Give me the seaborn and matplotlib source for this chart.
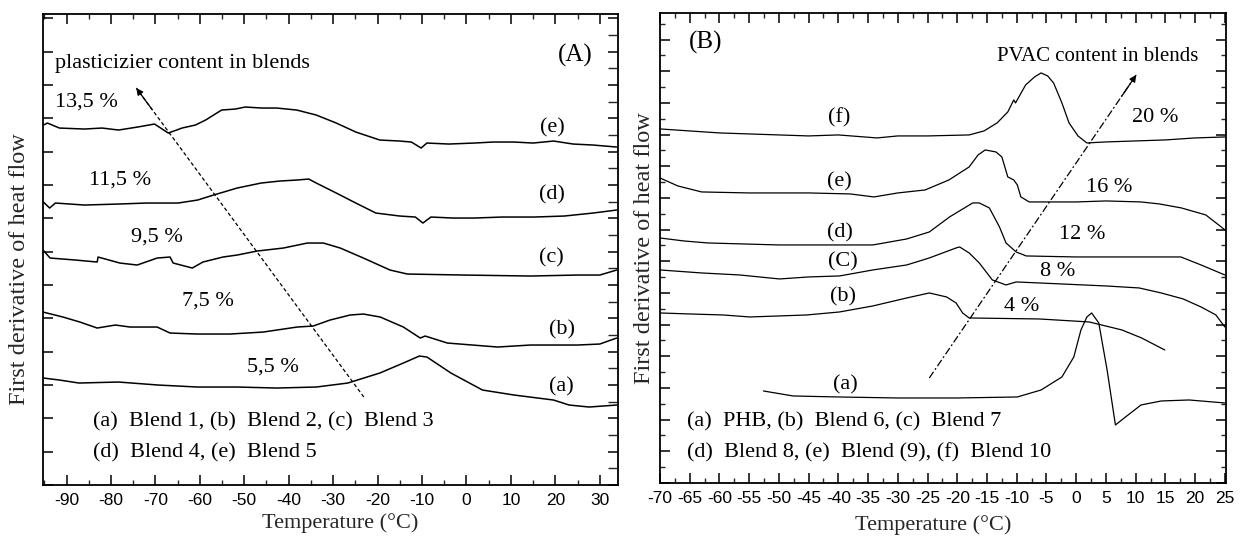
import matplotlib
matplotlib.use("Agg")
import matplotlib.pyplot as plt
import seaborn as sns
import pandas as pd
from matplotlib.ticker import MultipleLocator

# ---------------- Panel (A) : plasticizer blends ----------------
tA_a = [-95.2, -91.6, -87.2, -78.3, -69.4, -60.5, -51.6, -42.7, -33.8, -26.7, -19.5, -14.2,
        -10.6, -8.9, -3.5, 3.6, 10.7, 19.6, 23.1, 27.6, 33.8]
yA_a = [10.7, 10.5, 10.2, 10.3, 10.0, 9.8, 9.8, 9.7, 9.8, 10.2, 11.2, 12.2,
        12.9, 12.8, 11.2, 9.5, 9.0, 8.5, 8.0, 7.8, 8.0]

tA_b = [-95.3, -90.8, -87.0, -83.1, -79.0, -75.7, -69.6, -66.7, -60.6, -53.2, -45.7, -38.1,
        -34.5, -30.7, -26.2, -23.2, -19.4, -14.2, -10.4, -9.3, -4.3, 7.0, 14.4, 25.0, 30.0, 33.8]
yA_b = [17.3, 16.8, 16.3, 15.7, 16.0, 15.8, 15.8, 15.2, 15.1, 15.1, 15.3, 15.8,
        15.9, 16.5, 17.0, 17.1, 16.8, 15.8, 14.7, 14.9, 14.2, 13.8, 14.0, 14.0, 14.1, 14.7]

tA_c = [-95.3, -93.7, -88.0, -83.1, -82.9, -78.0, -74.1, -69.6, -66.7, -66.0, -61.7, -59.3,
        -54.8, -51.6, -47.1, -41.2, -35.8, -32.2, -28.4, -23.2, -17.2, -13.3, -0.7, 14.4,
        25.0, 30.0, 33.8]
yA_c = [23.5, 22.7, 22.5, 22.3, 22.8, 22.2, 22.0, 22.7, 22.8, 22.2, 21.7, 22.3,
        22.8, 23.0, 23.4, 23.7, 24.2, 24.2, 23.7, 22.7, 21.5, 21.1, 21.0, 20.9,
        21.0, 21.0, 21.5]

tA_d = [-95.2, -93.8, -92.5, -86.0, -78.3, -72.0, -64.9, -60.5, -56.9, -51.6, -46.2, -42.0,
        -38.2, -35.5, -33.8, -29.3, -24.9, -20.4, -15.0, -11.5, -9.8, -8.0, -3.0, 1.8, 8.0,
        15.2, 22.0, 28.5, 33.8]
yA_d = [28.3, 27.7, 28.2, 28.0, 28.1, 28.2, 28.2, 28.5, 29.0, 29.7, 30.2, 30.4,
        30.5, 30.6, 30.2, 29.2, 28.2, 27.2, 26.9, 26.8, 26.2, 26.8, 26.7, 26.7, 26.8,
        26.8, 26.9, 27.2, 27.5]

tA_e = [-95.2, -94.3, -91.6, -86.0, -82.0, -78.3, -74.0, -70.2, -67.1, -64.0, -61.0, -58.7,
        -55.1, -52.0, -49.8, -46.0, -42.7, -38.2, -33.8, -29.3, -24.9, -19.5, -15.0, -12.4,
        -10.2, -8.9, -4.0, 1.8, 6.0, 10.7, 15.0, 19.6, 24.0, 28.5, 33.8]
yA_e = [36.0, 36.2, 35.7, 35.6, 35.7, 35.5, 35.8, 36.1, 35.2, 35.7, 36.0, 36.5,
        37.5, 37.6, 37.8, 37.7, 37.7, 37.5, 37.0, 36.2, 35.3, 34.5, 34.4, 34.3,
        33.7, 34.2, 34.1, 34.2, 34.3, 34.3, 34.2, 34.4, 34.1, 34.0, 33.8]

labels_A = ["(a)", "(b)", "(c)", "(d)", "(e)"]
label_pos_A = [(21.4, 9.8), (21.4, 15.5), (19.2, 22.7), (19.2, 29.0), (19.3, 35.7)]
contents_A = ["5,5 %", "7,5 %", "9,5 %", "11,5 %", "13,5 %"]
content_pos_A = [(-49.3, 11.8), (-64.0, 18.4), (-75.6, 24.8), (-84.9, 30.5), (-92.5, 38.3)]
legend_A = ["(a)  Blend 1, (b)  Blend 2, (c)  Blend 3", "(d)  Blend 4, (e)  Blend 5"]
xticks_A = [-90, -80, -70, -60, -50, -40, -30, -20, -10, 0, 10, 20, 30]

# ---------------- Panel (B) : PVAC blends ----------------
tB_a = [-52.6, -47.6, -40.0, -30.0, -20.0, -9.9, -5.9, -2.4, -0.4, 0.8, 1.8, 2.6, 3.8,
        5.2, 6.6, 8.3, 10.9, 14.3, 19.0, 25.0]
yB_a = [9.2, 8.7, 8.6, 8.5, 8.5, 8.6, 9.3, 10.6, 12.6, 15.3, 16.6, 17.0, 16.0,
        11.3, 5.8, 6.6, 7.8, 8.2, 8.3, 8.0]

tB_b = [-70.0, -65.0, -59.4, -54.9, -50.0, -45.3, -39.8, -34.2, -28.5, -24.7, -21.8, -20.2,
        -19.1, -18.0, -6.2, 2.2, 7.7, 11.0, 14.9]
yB_b = [17.0, 16.9, 16.8, 16.6, 16.7, 16.8, 17.1, 17.7, 18.5, 19.0, 18.6, 18.0,
        17.0, 16.5, 16.4, 16.1, 15.3, 14.5, 13.3]

tB_c = [-70.0, -63.0, -56.6, -49.9, -45.0, -39.8, -34.2, -28.5, -24.7, -20.2, -19.6, -18.0,
        -16.3, -14.1, -11.8, -10.1, -6.2, 5.0, 10.6, 14.3, 18.0, 21.0, 23.5, 25.0]
yB_c = [21.3, 21.0, 20.8, 20.4, 20.6, 20.7, 21.3, 21.8, 22.5, 23.5, 23.6, 23.0,
        22.0, 20.3, 19.8, 20.1, 20.0, 19.7, 19.5, 19.0, 18.4, 17.6, 16.8, 15.6]

tB_d = [-70.0, -66.0, -62.0, -50.0, -40.0, -34.2, -28.5, -24.7, -21.3, -17.4, -16.3, -14.6,
        -12.9, -11.8, -10.1, -8.4, 0.0, 10.0, 17.6, 21.0, 25.0]
yB_d = [24.5, 24.2, 24.0, 23.8, 23.8, 23.8, 24.4, 25.1, 26.6, 28.0, 28.0, 27.5,
        25.6, 24.0, 23.1, 22.7, 22.6, 22.6, 22.6, 21.8, 20.8]

tB_e = [-70.0, -67.0, -63.0, -55.0, -45.0, -38.0, -34.0, -30.0, -25.4, -21.4, -18.0, -16.5,
        -15.3, -13.5, -12.5, -11.5, -10.5, -9.9, -9.3, -7.9, 0.0, 5.0, 10.9, 14.0, 17.7,
        21.8, 24.4, 25.0]
yB_e = [30.5, 29.7, 29.1, 29.0, 29.0, 28.9, 28.6, 29.0, 29.3, 30.3, 31.6, 32.8,
        33.3, 33.1, 32.6, 30.6, 30.3, 29.8, 28.6, 28.1, 28.1, 28.2, 28.1, 27.9, 27.5,
        26.8, 25.6, 25.3]

tB_f = [-70.0, -65.0, -60.0, -55.0, -50.0, -45.0, -40.0, -33.5, -30.0, -25.0, -18.0, -15.5,
        -13.3, -11.5, -10.5, -10.2, -8.5, -7.0, -5.9, -4.8, -3.8, -2.4, -1.2, 0.3, 1.8,
        5.0, 10.0, 15.0, 20.0, 25.0]
yB_f = [35.4, 35.2, 35.0, 34.9, 34.8, 34.7, 34.8, 34.5, 34.7, 34.7, 34.8, 35.2,
        36.0, 37.1, 38.3, 38.0, 39.8, 40.6, 41.0, 40.7, 40.0, 38.0, 36.0, 34.7, 34.0,
        34.1, 34.2, 34.3, 34.5, 34.6]

labels_B = ["(a)", "(b)", "(C)", "(d)", "(e)", "(f)"]
label_pos_B = [(-38.9, 9.8), (-39.3, 18.6), (-39.3, 22.1), (-39.8, 25.0), (-39.9, 30.1), (-39.9, 36.5)]
contents_B = ["4 %", "8 %", "12 %", "16 %", "20 %"]
content_pos_B = [(-9.1, 17.6), (-3.2, 21.1), (1.0, 24.8), (5.5, 29.5), (13.3, 36.5)]
legend_B = ["(a)  PHB, (b)  Blend 6, (c)  Blend 7", "(d)  Blend 8, (e)  Blend (9), (f)  Blend 10"]
xticks_B = [-70, -65, -60, -55, -50, -45, -40, -35, -30, -25, -20, -15, -10, -5, 0, 5, 10, 15, 20, 25]

arrow_A = [(-23.1, 8.8), (-74.3, 39.7)]
arrow_B = [(-24.7, 10.5), (10.1, 40.8)]

# ---------------- figure ----------------
sns.set_theme(style="white")
SERIF = "Liberation Serif"
SANS = "Liberation Sans"
plt.rcParams["font.family"] = SERIF
plt.rcParams["axes.unicode_minus"] = False
plt.rcParams["axes.edgecolor"] = "black"

fig = plt.figure(figsize=(12.49, 5.36), dpi=100)
fig.patch.set_facecolor("white")
ax1 = fig.add_axes([0.0344, 0.0951, 0.4604, 0.8787])
ax2 = fig.add_axes([0.5284, 0.0989, 0.4532, 0.8770])


def long_df(ts, ys, names):
    frames = []
    for t, y, n in zip(ts, ys, names):
        frames.append(pd.DataFrame({"T": t, "y": y, "curve": n}))
    return pd.concat(frames, ignore_index=True)


dfA = long_df([tA_a, tA_b, tA_c, tA_d, tA_e], [yA_a, yA_b, yA_c, yA_d, yA_e], list("abcde"))
dfB = long_df([tB_a, tB_b, tB_c, tB_d, tB_e, tB_f],
              [yB_a, yB_b, yB_c, yB_d, yB_e, yB_f], list("abcdef"))

sns.lineplot(data=dfA, x="T", y="y", hue="curve", palette={k: "black" for k in "abcde"},
             estimator=None, sort=False, legend=False, lw=1.1, ax=ax1)
sns.lineplot(data=dfB, x="T", y="y", hue="curve", palette={k: "black" for k in "abcdef"},
             estimator=None, sort=False, legend=False, lw=0.9, ax=ax2)


def arrow(ax, p0, p1, ls):
    ax.plot([p0[0], p1[0]], [p0[1], p1[1]], color="black", lw=0.9, ls=ls)
    fx = p0[0] + (p1[0] - p0[0]) * 0.93
    fy = p0[1] + (p1[1] - p0[1]) * 0.93
    ax.annotate("", xy=p1, xytext=(fx, fy),
                arrowprops=dict(arrowstyle="-|>", color="black", lw=0.9,
                                mutation_scale=10, shrinkA=0, shrinkB=0))


arrow(ax1, arrow_A[0], arrow_A[1], (0, (3, 2)))
arrow(ax2, arrow_B[0], arrow_B[1], (0, (6, 2, 1.5, 2)))

FS = 16


def txt(ax, x, y, s, ha="left", fs=FS):
    ax.text(x, y, s, ha=ha, va="center", fontsize=fs, family=SERIF, color="black")


for lab, (x, y) in zip(labels_A, label_pos_A):
    txt(ax1, x, y, lab, ha="center")
for lab, (x, y) in zip(contents_A, content_pos_A):
    txt(ax1, x, y, lab)
txt(ax1, -92.5, 42.2, "plasticizier content in blends")
txt(ax1, 24.5, 43.0, "(A)", ha="center", fs=18)
txt(ax1, -84.0, 6.3, legend_A[0])
txt(ax1, -84.0, 3.2, legend_A[1])

for lab, (x, y) in zip(labels_B, label_pos_B):
    txt(ax2, x, y, lab, ha="center")
for lab, (x, y) in zip(contents_B, content_pos_B):
    txt(ax2, x, y, lab, ha="center")
txt(ax2, -13.3, 42.6, "PVAC content in blends", fs=15)
txt(ax2, -65.1, 44.0, "(B)", fs=18)
txt(ax2, -65.4, 6.1, legend_B[0])
txt(ax2, -65.4, 3.0, legend_B[1])

# axes styling
ax1.set_xticks(xticks_A, [str(v) for v in xticks_A], fontfamily=SANS, fontsize=12.5)
ax2.set_xticks(xticks_B, [str(v) for v in xticks_B], fontfamily=SANS, fontsize=12.5)
ax1.set_xlim(-95.3, 34.1)
ax1.set_ylim(0, 47.1)
ax2.set_xlim(-70, 25.2)
ax2.set_ylim(0, 47.0)

ax1.xaxis.set_minor_locator(MultipleLocator(5))
ax1.yaxis.set_major_locator(MultipleLocator(10 / 3))
ax1.yaxis.set_minor_locator(MultipleLocator(10 / 6))
ax2.xaxis.set_minor_locator(MultipleLocator(2.5))
ax2.yaxis.set_major_locator(MultipleLocator(3.167))
ax2.yaxis.set_minor_locator(MultipleLocator(3.167 / 2))

for ax in (ax1, ax2):
    ax.set_xlabel("")
    ax.set_ylabel("")
    for s in ax.spines.values():
        s.set_visible(True)
        s.set_linewidth(1.3)
        s.set_color("black")
    ax.tick_params(which="major", direction="in", length=7, width=1.1, top=True, right=True,
                   bottom=True, left=True, labelleft=False, pad=6, colors="black")
    ax.tick_params(which="minor", direction="in", length=3.5, width=1.0, top=True, right=True,
                   bottom=True, left=True)
    ax.set_facecolor("white")
    ax.grid(False)

ax1.tick_params(axis="y", which="minor", left=False, right=True, length=7)

fig.text(340 / 1249, 1 - 523 / 536, "Temperature (°C)", ha="center", va="center",
         fontsize=16, family=SERIF)
fig.text(933 / 1249, 1 - 525 / 536, "Temperature (°C)", ha="center", va="center",
         fontsize=16, family=SERIF)
fig.text(19.5 / 1249, 1 - 269 / 536, "First derivative of heat flow", ha="center", va="center",
         rotation=90, fontsize=17.5, family=SERIF)
fig.text(645 / 1249, 1 - 248 / 536, "First derivative of heat flow", ha="center", va="center",
         rotation=90, fontsize=17.5, family=SERIF)

fig.savefig("out.png", dpi=100, facecolor="white")
